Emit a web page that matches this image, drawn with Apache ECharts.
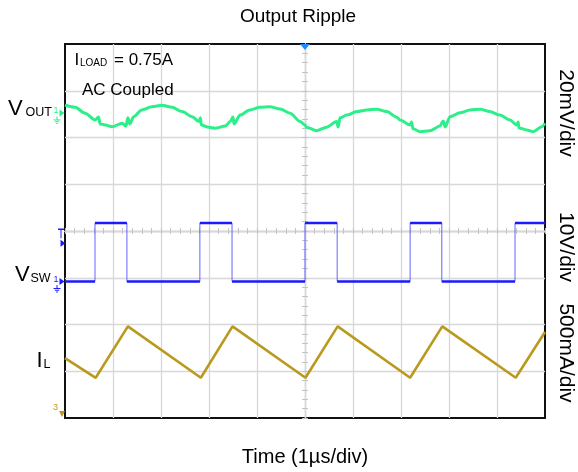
<!DOCTYPE html>
<html><head><meta charset="utf-8">
<script src="https://cdn.jsdelivr.net/npm/echarts@6/dist/echarts.min.js"></script>
<style>html,body{margin:0;padding:0;background:#fff}#c{width:578px;height:472px}</style>
</head><body><div id="c"></div>
<script>
const FONT = '"Liberation Sans", Arial, sans-serif';

// ---- data (time in µs, 1 µs/div, 10 divisions) ----
const voutTimeUs = [0.00,0.21,0.42,0.63,0.70,0.73,0.84,0.98,1.19,1.27,1.31,1.35,1.43,1.60,1.81,2.02,2.23,2.44,2.65,2.79,2.82,2.84,2.99,3.13,3.34,3.44,3.50,3.52,3.65,3.85,4.06,4.27,4.48,4.69,4.90,5.00,5.03,5.24,5.45,5.66,5.69,5.73,5.87,6.08,6.29,6.49,6.70,6.91,6.98,7.19,7.22,7.25,7.40,7.60,7.81,7.88,7.92,8.02,8.23,8.44,8.65,8.85,9.06,9.27,9.41,9.44,9.46,9.62,9.76,9.93,10.0];
const voutMv = [3.4,2.4,-0.1,-3.0,-1.7,-4.7,-5.1,-5.9,-4.4,-5.6,-2.1,-4.7,-1.6,1.3,2.7,3.3,2.4,0.6,-1.6,-3.7,-2.1,-5.1,-6.1,-6.5,-5.6,-3.7,-1.7,-4.7,-0.9,1.3,2.4,2.7,1.7,-0.1,-3.7,-5.1,-6.1,-7.6,-6.1,-3.7,-6.0,-2.1,-0.9,0.6,1.3,1.6,0.6,-1.8,-3.0,-5.1,-3.9,-6.8,-8.0,-7.6,-5.6,-3.4,-6.0,-1.6,0.1,1.3,1.6,0.6,-0.9,-3.0,-5.1,-3.9,-6.4,-7.3,-8.0,-5.9,-4.4];

const swRiseUs = [0.625, 2.81, 5.0, 7.19, 9.375];
const swFallUs = [1.29, 3.48, 5.67, 7.85];
const vswHighV = 12.5;
const vswLowV = 0;

const ilTimeUs = [0, 0.64, 1.31, 2.83, 3.49, 5.01, 5.68, 7.19, 7.86, 9.39, 10];
const ilAmps   = [0.64, 0.43, 0.98, 0.43, 0.98, 0.43, 0.98, 0.43, 0.98, 0.43, 0.92];

const scaleLabels = ['20mV/div', '10V/div', '500mA/div'];
const trigLevelV = 8.2;   // trigger level marker
const trigMarkV = 10.2;   // "T" marker

// ---- axis ranges (8 vertical divisions) ----
const voutRange = [-130.5, 29.5];   // 20 mV/div
const vswRange  = [-29.2, 50.8];    // 10 V/div
const ilRange   = [0, 4];           // 0.5 A/div

const GREEN = '#2cef8a', BLUE = '#1a1aff', BLUE_EDGE = '#6464ff', GOLD = '#b99a1e', TRIG = '#1e8cff';
const GRID = '#d8d8d8';

// ---- build series data ----
const voutData = voutTimeUs.map((t, i) => [t, voutMv[i]]);
const ilData = ilTimeUs.map((t, i) => [t, ilAmps[i]]);
const events = [];
swRiseUs.forEach(t => events.push([t, vswLowV, vswHighV]));
swFallUs.forEach(t => events.push([t, vswHighV, vswLowV]));
events.sort((a, b) => a[0] - b[0]);
const swStep = [[0, vswLowV]];
const swLevels = [[0, vswLowV]];
events.forEach(e => {
  swStep.push([e[0], e[1]], [e[0], e[2]]);
  swLevels.push([e[0], e[1]], [e[0], '-'], [e[0], e[2]]);
});
const lastV = events[events.length - 1][2];
swStep.push([10, lastV]);
swLevels.push([10, lastV]);

const groundPath = 'path://M4,0 L4,4 M0,4 L8,4 M1.5,6 L6.5,6 M3,8 L5,8';
const arrowRight = 'path://M0,0 L6,4 L0,8 Z';
function chanMarks(color, num, withGround) {
  const d = [{
    coord: [0, 0], symbol: arrowRight, symbolSize: [5, 7], symbolOffset: [-3, 0],
    itemStyle: { color },
    label: { show: true, formatter: num, position: 'left', distance: 1, offset: [0, -2], color, fontSize: 9, fontFamily: FONT }
  }];
  if (withGround) d.push({
    coord: [0, 0], symbol: groundPath, symbolSize: [7, 7], symbolOffset: [-8, 7], symbolKeepAspect: true,
    itemStyle: { color: 'none', borderColor: color, borderWidth: 1 }, label: { show: false }
  });
  return d;
}

const chart = echarts.init(document.getElementById('c'), null, { renderer: 'canvas' });

const hiddenY = (r) => ({ type: 'value', min: r[0], max: r[1], show: false });
const centerTicks = (extra) => Object.assign({
  type: 'value', interval: 1,
  axisLine: { show: true, onZero: true, lineStyle: { color: GRID, width: 1.3 } },
  axisTick: { show: true, inside: true, length: 3, lineStyle: { color: '#c4c4c4' } },
  minorTick: { show: true, splitNumber: 5, length: 3, lineStyle: { color: '#c4c4c4' } },
  axisLabel: { show: false }, splitLine: { show: false }
}, extra);

chart.setOption({
  animation: false,
  backgroundColor: '#fff',
  grid: { left: 65, top: 44, width: 480, height: 374, show: true, borderColor: '#111', borderWidth: 2, backgroundColor: 'transparent' },
  xAxis: [
    { type: 'value', min: 0, max: 10, interval: 1, axisLine: { show: false }, axisTick: { show: false }, axisLabel: { show: false },
      splitLine: { show: true, showMinLine: false, showMaxLine: false, lineStyle: { color: GRID, width: 1.3 } } },
    centerTicks({ min: -5, max: 5, position: 'bottom', axisLine: { show: true, onZero: true, onZeroAxisIndex: 4, lineStyle: { color: GRID, width: 1.3 } } }),
    centerTicks({ min: -5, max: 5, position: 'top', axisLine: { show: true, onZero: true, onZeroAxisIndex: 4, lineStyle: { color: GRID, width: 1.3 } } })
  ],
  yAxis: [
    { type: 'value', min: 0, max: 8, interval: 1, axisLine: { show: false }, axisTick: { show: false }, axisLabel: { show: false },
      splitLine: { show: true, showMinLine: false, showMaxLine: false, lineStyle: { color: GRID, width: 1.3 } } },
    hiddenY(voutRange),
    hiddenY(vswRange),
    hiddenY(ilRange),
    centerTicks({ min: -4, max: 4, position: 'left', axisLine: { show: true, onZero: true, onZeroAxisIndex: 1, lineStyle: { color: GRID, width: 1.3 } } }),
    centerTicks({ min: -4, max: 4, position: 'right', axisLine: { show: true, onZero: true, onZeroAxisIndex: 1, lineStyle: { color: GRID, width: 1.3 } } })
  ],
  series: [
    { name: 'VOUT', type: 'line', xAxisIndex: 0, yAxisIndex: 1, data: voutData, showSymbol: false,
      smooth: 0.3, smoothMonotone: 'x',
      lineStyle: { color: GREEN, width: 3 }, z: 5,
      markPoint: { silent: true, animation: false, data: chanMarks(GREEN, '1', true) } },
    { name: 'VSW edges', type: 'line', xAxisIndex: 0, yAxisIndex: 2, data: swStep, showSymbol: false,
      lineStyle: { color: BLUE_EDGE, width: 1 }, z: 4 },
    { name: 'VSW', type: 'line', xAxisIndex: 0, yAxisIndex: 2, data: swLevels, showSymbol: false, connectNulls: false,
      lineStyle: { color: BLUE, width: 2.5 }, z: 5,
      markPoint: { silent: true, animation: false, data: chanMarks(BLUE, '1', true).concat([
        { coord: [0, trigMarkV], symbol: 'path://M0,0 L6,0 M3,0 L3,9', symbolSize: [6, 9], symbolOffset: [-4, 0],
          itemStyle: { color: 'none', borderColor: BLUE, borderWidth: 1.2 }, label: { show: false } },
        { coord: [0, trigLevelV], symbol: arrowRight, symbolSize: [5, 7], symbolOffset: [-2, 0],
          itemStyle: { color: BLUE }, label: { show: false } },
        { coord: [5, vswRange[1]], symbol: 'path://M0,0 L10,0 L5,7 Z', symbolSize: [10, 6], symbolOffset: [0, 3],
          itemStyle: { color: TRIG }, label: { show: false } }
      ]) } },
    { name: 'IL', type: 'line', xAxisIndex: 0, yAxisIndex: 3, data: ilData, showSymbol: false,
      lineStyle: { color: GOLD, width: 2.6 }, z: 5,
      markPoint: { silent: true, animation: false, data: [
        { coord: [0, 0], symbol: 'path://M0,0 L8,0 L4,8 Z', symbolSize: [6, 6], symbolOffset: [-3, -4],
          itemStyle: { color: GOLD },
          label: { show: true, formatter: '3', position: 'left', distance: 1, offset: [0, -6], color: GOLD, fontSize: 9, fontFamily: FONT } }
      ] } }
  ],
  graphic: [
    { type: 'text', x: 298, y: 17, style: { text: 'Output Ripple', font: '19px ' + FONT, fill: '#000', textAlign: 'center', textVerticalAlign: 'middle', align: 'center', verticalAlign: 'middle' } },
    { type: 'text', x: 305, y: 457, style: { text: 'Time (1µs/div)', font: '20px ' + FONT, fill: '#000', textAlign: 'center', textVerticalAlign: 'middle', align: 'center', verticalAlign: 'middle' } },
    { type: 'text', x: 566, y: 113, rotation: -Math.PI / 2, style: { text: scaleLabels[0], font: '21px ' + FONT, fill: '#000', textAlign: 'center', textVerticalAlign: 'middle', align: 'center', verticalAlign: 'middle' } },
    { type: 'text', x: 566, y: 247, rotation: -Math.PI / 2, style: { text: scaleLabels[1], font: '21px ' + FONT, fill: '#000', textAlign: 'center', textVerticalAlign: 'middle', align: 'center', verticalAlign: 'middle' } },
    { type: 'text', x: 566, y: 353, rotation: -Math.PI / 2, style: { text: scaleLabels[2], font: '21px ' + FONT, fill: '#000', textAlign: 'center', textVerticalAlign: 'middle', align: 'center', verticalAlign: 'middle' } },
    // left channel names
    { type: 'text', x: 8, y: 109.4, style: { text: 'V', font: '22px ' + FONT, fill: '#000', textVerticalAlign: 'middle', verticalAlign: 'middle' } },
    { type: 'text', x: 25.5, y: 113, style: { text: 'OUT', font: '12.5px ' + FONT, fill: '#000', textVerticalAlign: 'middle', verticalAlign: 'middle' } },
    { type: 'text', x: 15, y: 275.4, style: { text: 'V', font: '22px ' + FONT, fill: '#000', textVerticalAlign: 'middle', verticalAlign: 'middle' } },
    { type: 'text', x: 30.5, y: 279, style: { text: 'SW', font: '12.5px ' + FONT, fill: '#000', textVerticalAlign: 'middle', verticalAlign: 'middle' } },
    { type: 'text', x: 36.5, y: 361, style: { text: 'I', font: '22px ' + FONT, fill: '#000', textVerticalAlign: 'middle', verticalAlign: 'middle' } },
    { type: 'text', x: 43.5, y: 364.7, style: { text: 'L', font: '12.5px ' + FONT, fill: '#000', textVerticalAlign: 'middle', verticalAlign: 'middle' } },
    // in-plot annotations
    { type: 'text', x: 74.5, y: 60.6, z: 10, style: { text: 'I', font: '17px ' + FONT, fill: '#000', textVerticalAlign: 'middle', verticalAlign: 'middle' } },
    { type: 'text', x: 80, y: 63.1, z: 10, style: { text: 'LOAD', font: '10px ' + FONT, fill: '#000', textVerticalAlign: 'middle', verticalAlign: 'middle' } },
    { type: 'text', x: 114, y: 60.6, z: 10, style: { text: '= 0.75A', font: '17px ' + FONT, fill: '#000', textVerticalAlign: 'middle', verticalAlign: 'middle' } },
    { type: 'text', x: 82, y: 90.6, z: 10, style: { text: 'AC Coupled', font: '17px ' + FONT, fill: '#000', textVerticalAlign: 'middle', verticalAlign: 'middle' } }
  ]
});
</script></body></html>
